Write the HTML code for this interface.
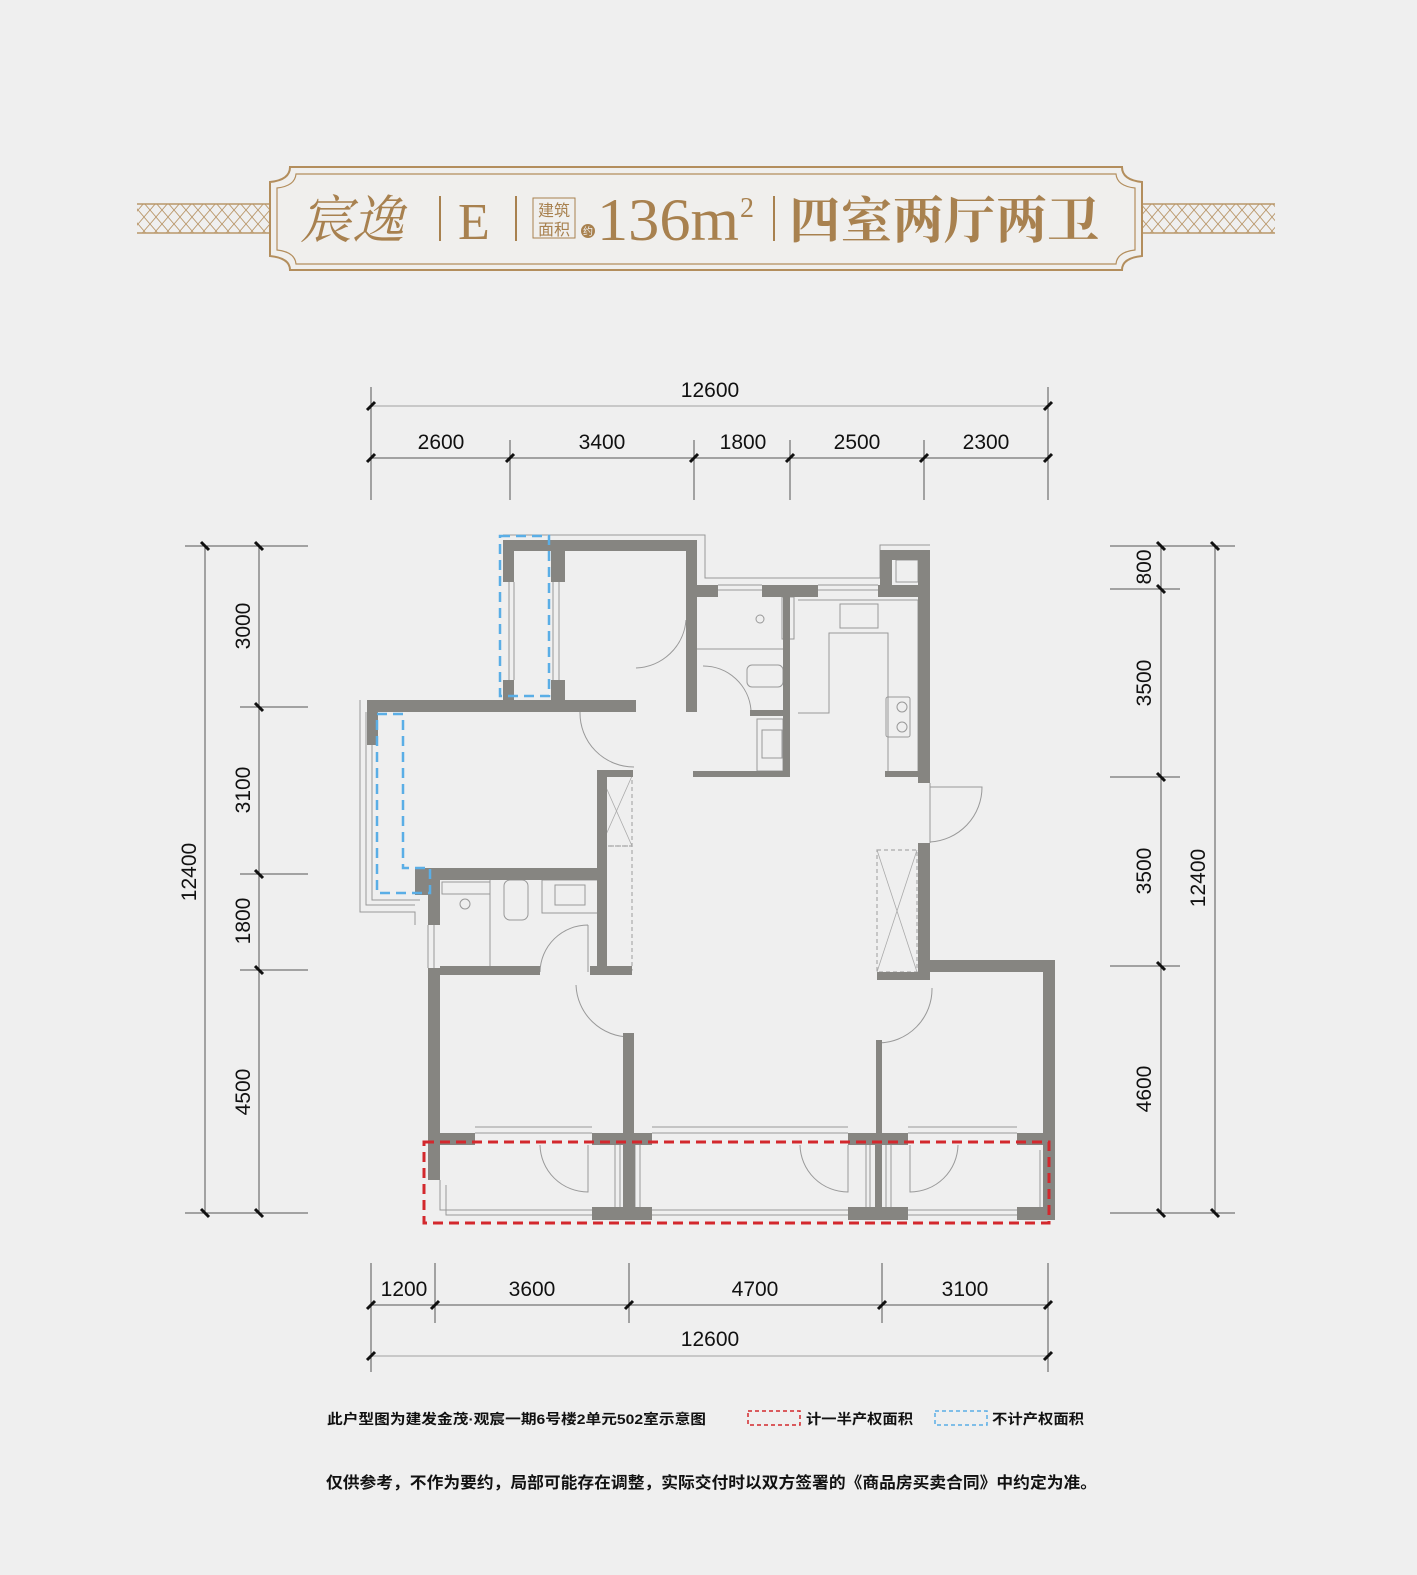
<!DOCTYPE html>
<html><head><meta charset="utf-8"><style>
html,body{margin:0;padding:0;background:#efefef}
svg{display:block}
.t{font-family:"Liberation Sans","Noto Sans CJK SC",sans-serif}
</style></head><body>
<svg width="1417" height="1575" viewBox="0 0 1417 1575" xmlns="http://www.w3.org/2000/svg">
<defs>
<pattern id="dia" x="0" y="0" width="12" height="14" patternUnits="userSpaceOnUse">
<path d="M6 0 L12 7 L6 14 L0 7 Z" fill="none" stroke="#b9976a" stroke-width="0.9"/>
</pattern>
</defs>
<rect width="1417" height="1575" fill="#efefef"/>

<g>
<rect x="137" y="204" width="134" height="29" fill="url(#dia)"/>
<line x1="137" y1="204" x2="271" y2="204" stroke="#b9976a" stroke-width="1.5"/>
<line x1="137" y1="233" x2="271" y2="233" stroke="#b9976a" stroke-width="1.5"/>
<rect x="1142" y="204" width="133" height="29" fill="url(#dia)"/>
<line x1="1142" y1="204" x2="1275" y2="204" stroke="#b9976a" stroke-width="1.5"/>
<line x1="1142" y1="233" x2="1275" y2="233" stroke="#b9976a" stroke-width="1.5"/>
<path d="M290 167 H1122 Q1122 180 1142 182 V256 Q1122 258 1122 270 H290 Q290 258 270 256 V182 Q290 180 290 167 Z" fill="#f0efed" stroke="#b38e5d" stroke-width="2"/>
<path d="M296 174 H1116 Q1117 186 1135 188 V250 Q1117 252 1116 264 H296 Q295 252 277 250 V188 Q295 186 296 174 Z" fill="none" stroke="#b38e5d" stroke-width="1.2"/>
<text x="300" y="238" font-family="'Noto Serif CJK SC',serif" font-size="52" font-style="italic" fill="#a8814f">宸逸</text>
<line x1="440" y1="196" x2="440" y2="241" stroke="#a8814f" stroke-width="2"/>
<text x="458" y="239" font-family="'Liberation Serif',serif" font-size="52" fill="#a8814f">E</text>
<line x1="516" y1="196" x2="516" y2="241" stroke="#a8814f" stroke-width="2"/>
<rect x="533" y="198" width="42" height="40" fill="none" stroke="#a8814f" stroke-width="1"/>
<text x="554" y="216" text-anchor="middle" font-family="'Noto Sans CJK SC',sans-serif" font-size="16" fill="#a8814f">建筑</text>
<text x="554" y="235" text-anchor="middle" font-family="'Noto Sans CJK SC',sans-serif" font-size="16" fill="#a8814f">面积</text>
<circle cx="588" cy="231" r="7" fill="#a8814f"/>
<text x="588" y="235" text-anchor="middle" font-family="'Noto Sans CJK SC',sans-serif" font-size="10" fill="#f0efed">约</text>
<text x="597" y="240" font-family="'Liberation Serif',serif" font-size="60" fill="#a8814f" textLength="142" lengthAdjust="spacingAndGlyphs">136m</text>
<text x="740" y="217" font-family="'Liberation Serif',serif" font-size="28" fill="#a8814f">2</text>
<line x1="774" y1="196" x2="774" y2="241" stroke="#a8814f" stroke-width="2"/>
<text x="789" y="238" font-family="'Noto Serif CJK SC',serif" font-weight="bold" font-size="50" fill="#a8814f" textLength="310" lengthAdjust="spacingAndGlyphs">四室两厅两卫</text>
</g>

<g stroke="#555" stroke-width="1" fill="none">
<line x1="371" y1="406" x2="1048" y2="406" stroke="#bbb" stroke-width="1.5"/>
<line x1="371" y1="458" x2="1048" y2="458"/>
<line x1="371" y1="387" x2="371" y2="500"/>
<line x1="1048" y1="387" x2="1048" y2="500"/>
<line x1="510" y1="440" x2="510" y2="500"/>
<line x1="694" y1="440" x2="694" y2="500"/>
<line x1="790" y1="440" x2="790" y2="500"/>
<line x1="924" y1="440" x2="924" y2="500"/>
<line x1="371" y1="1305" x2="1048" y2="1305"/>
<line x1="371" y1="1356" x2="1048" y2="1356" stroke="#bbb" stroke-width="1.5"/>
<line x1="371" y1="1263" x2="371" y2="1372"/>
<line x1="1048" y1="1263" x2="1048" y2="1372"/>
<line x1="435" y1="1263" x2="435" y2="1323"/>
<line x1="629" y1="1263" x2="629" y2="1323"/>
<line x1="882" y1="1263" x2="882" y2="1323"/>
<line x1="205" y1="546" x2="205" y2="1213"/>
<line x1="259" y1="546" x2="259" y2="1213"/>
<line x1="185" y1="546" x2="308" y2="546"/>
<line x1="185" y1="1213" x2="308" y2="1213"/>
<line x1="240" y1="707" x2="308" y2="707"/>
<line x1="240" y1="874" x2="308" y2="874"/>
<line x1="240" y1="970" x2="308" y2="970"/>
<line x1="1161" y1="546" x2="1161" y2="1213"/>
<line x1="1215" y1="546" x2="1215" y2="1213"/>
<line x1="1110" y1="546" x2="1235" y2="546"/>
<line x1="1110" y1="1213" x2="1235" y2="1213"/>
<line x1="1110" y1="589" x2="1180" y2="589"/>
<line x1="1110" y1="777" x2="1180" y2="777"/>
<line x1="1110" y1="966" x2="1180" y2="966"/>
</g>
<g stroke="#111" stroke-width="3">
<path d="M367 410l8-8M367 462l8-8M1044 410l8-8M1044 462l8-8M506 462l8-8M690 462l8-8M786 462l8-8M920 462l8-8"/>
<path d="M367 1309l8-8M367 1360l8-8M1044 1309l8-8M1044 1360l8-8M431 1309l8-8M625 1309l8-8M878 1309l8-8"/>
<path d="M201 542l8 8M255 542l8 8M201 1209l8 8M255 1209l8 8M255 703l8 8M255 870l8 8M255 966l8 8"/>
<path d="M1157 542l8 8M1211 542l8 8M1157 1209l8 8M1211 1209l8 8M1157 585l8 8M1157 773l8 8M1157 962l8 8"/>
</g>
<g class="t" font-size="21" fill="#111" text-anchor="middle">
<text x="710" y="397">12600</text>
<text x="441" y="449">2600</text>
<text x="602" y="449">3400</text>
<text x="743" y="449">1800</text>
<text x="857" y="449">2500</text>
<text x="986" y="449">2300</text>
<text x="404" y="1296">1200</text>
<text x="532" y="1296">3600</text>
<text x="755" y="1296">4700</text>
<text x="965" y="1296">3100</text>
<text x="710" y="1346">12600</text>
<text transform="translate(250,626) rotate(-90)">3000</text>
<text transform="translate(250,790) rotate(-90)">3100</text>
<text transform="translate(250,921) rotate(-90)">1800</text>
<text transform="translate(250,1092) rotate(-90)">4500</text>
<text transform="translate(196,872) rotate(-90)">12400</text>
<text transform="translate(1151,567) rotate(-90)">800</text>
<text transform="translate(1151,683) rotate(-90)">3500</text>
<text transform="translate(1151,871) rotate(-90)">3500</text>
<text transform="translate(1151,1089) rotate(-90)">4600</text>
<text transform="translate(1205,878) rotate(-90)">12400</text>
</g>

<g stroke="#999" stroke-width="1" fill="none">
<path d="M503 535 H705 V578 H880 V545 H930"/>
<path d="M360 700 V912 H415 V925"/>
<path d="M366 712 V905 H415"/>
<path d="M372 712 V900 H420"/>
<path d="M509 582 V680 M514 582 V680 M553 582 V680 M559 582 V680"/>
<path d="M428 925 V968 M434 925 V968"/>
<path d="M718 585 H762 M718 590 H762 M818 585 H878 M818 590 H878"/>
<path d="M475 1127 H592 M475 1133 H592 M652 1127 H848 M652 1133 H848 M908 1127 H1017 M908 1133 H1017"/>
<path d="M440 1180 V1210 H592 M446 1185 V1215 H592 M652 1210 H848 M652 1215 H848 M908 1210 H1017 M908 1215 H1017"/>
<path d="M615 1140 V1210 M620 1140 V1210 M635 1140 V1210 M640 1140 V1210 M866 1140 V1210 M870 1140 V1210 M886 1140 V1210 M891 1140 V1210 M1040 1150 V1210"/>
<path d="M930 783 V843"/>
<path d="M636 668 A52 52 0 0 0 686 620 M580 712 A54 54 0 0 0 634 767"/>
<path d="M703 666 A48 48 0 0 1 751 710"/>
<path d="M540 972 A48 48 0 0 1 588 925 M588 925 V972"/>
<path d="M576 985 A54 54 0 0 0 630 1037"/>
<path d="M930 787 H982 A55 55 0 0 1 930 842"/>
<path d="M932 988 A54 54 0 0 1 878 1043"/>
<path d="M540 1145 A48 48 0 0 0 588 1192 V1145"/>
<path d="M800 1145 A48 48 0 0 0 848 1192 V1145"/>
<path d="M958 1145 A48 48 0 0 1 910 1192 V1145"/>
<rect x="442" y="882" width="48" height="12"/>
<circle cx="465" cy="904" r="5"/>
<rect x="504" y="880" width="24" height="40" rx="6"/>
<rect x="542" y="880" width="56" height="33"/>
<rect x="555" y="885" width="30" height="20"/>
<line x1="490" y1="880" x2="490" y2="970"/>
<rect x="782" y="597" width="12" height="42"/>
<circle cx="760" cy="619" r="4"/>
<rect x="840" y="604" width="38" height="24"/>
<path d="M798 600 H918 V773 H888 V633 H829 V713 H798"/>
<rect x="886" y="697" width="24" height="40" rx="2"/>
<circle cx="902" cy="707" r="5"/><circle cx="902" cy="727" r="5"/>
<rect x="757" y="719" width="26" height="52"/>
<rect x="762" y="730" width="20" height="28"/>
<rect x="747" y="665" width="36" height="22" rx="5"/>
<line x1="697" y1="649" x2="783" y2="649"/>
<rect x="896" y="560" width="22" height="22"/>
</g>
<g stroke="#aaa" stroke-width="1.2" fill="none" stroke-dasharray="4 3">
<rect x="601" y="776" width="31" height="70"/>
<rect x="601" y="846" width="31" height="124"/>
<rect x="877" y="850" width="40" height="122"/>
</g>
<g stroke="#aaa" stroke-width="0.8" fill="none">
<path d="M601 776 L632 846 M632 776 L601 846 M877 850 L917 972 M917 850 L877 972"/>
</g>

<g fill="#868581">
<rect x="509" y="540" width="188" height="11"/>
<rect x="503" y="540" width="11" height="42"/>
<rect x="551" y="540" width="14" height="42"/>
<rect x="503" y="680" width="11" height="25"/>
<rect x="551" y="680" width="14" height="25"/>
<rect x="686" y="540" width="11" height="172"/>
<rect x="367" y="700" width="269" height="12"/>
<rect x="367" y="700" width="11" height="45"/>
<rect x="415" y="868" width="185" height="12"/>
<rect x="415" y="868" width="25" height="27"/>
<rect x="428" y="880" width="12" height="45"/>
<rect x="428" y="968" width="12" height="212"/>
<rect x="440" y="966" width="100" height="9"/>
<rect x="590" y="966" width="42" height="9"/>
<rect x="597" y="770" width="10" height="205"/>
<rect x="597" y="770" width="36" height="7"/>
<rect x="623" y="1033" width="11" height="177"/>
<rect x="686" y="585" width="32" height="12"/>
<rect x="762" y="585" width="56" height="12"/>
<rect x="878" y="585" width="52" height="12"/>
<rect x="880" y="550" width="50" height="10"/>
<rect x="880" y="550" width="12" height="40"/>
<rect x="918" y="550" width="12" height="233"/>
<rect x="918" y="843" width="12" height="137"/>
<rect x="877" y="972" width="53" height="8"/>
<rect x="783" y="597" width="7" height="180"/>
<rect x="693" y="771" width="97" height="6"/>
<rect x="750" y="710" width="40" height="6"/>
<rect x="885" y="771" width="35" height="6"/>
<rect x="930" y="960" width="125" height="12"/>
<rect x="1043" y="960" width="12" height="260"/>
<rect x="876" y="1040" width="6" height="170"/>
<rect x="440" y="1133" width="35" height="12"/>
<rect x="592" y="1133" width="60" height="12"/>
<rect x="848" y="1133" width="60" height="12"/>
<rect x="1017" y="1133" width="28" height="12"/>
<rect x="592" y="1207" width="60" height="13"/>
<rect x="848" y="1207" width="60" height="13"/>
<rect x="1017" y="1207" width="28" height="13"/>
<rect x="625" y="1145" width="10" height="65"/>
<rect x="875" y="1145" width="7" height="65"/>
</g>

<g fill="none" stroke-width="2.5" stroke-dasharray="10 6">
<rect x="500" y="536" width="49" height="160" stroke="#5aaee6"/>
<path d="M377 714 H403 V868 H430 V893 H377 Z" stroke="#5aaee6"/>
<rect x="424" y="1142" width="625" height="81" stroke="#d3282d" stroke-width="3"/>
</g>

<g class="t" font-weight="bold" fill="#111">
<text x="327" y="1424" font-size="14" textLength="379" lengthAdjust="spacingAndGlyphs">此户型图为建发金茂·观宸一期6号楼2单元502室示意图</text>
<rect x="748" y="1411" width="52" height="14" fill="none" stroke="#d3282d" stroke-width="1.5" stroke-dasharray="4 3"/>
<text x="806" y="1424" font-size="14" textLength="107" lengthAdjust="spacingAndGlyphs">计一半产权面积</text>
<rect x="935" y="1411" width="52" height="14" fill="none" stroke="#5aaee6" stroke-width="1.5" stroke-dasharray="4 3"/>
<text x="992" y="1424" font-size="14" textLength="92" lengthAdjust="spacingAndGlyphs">不计产权面积</text>
<text x="326" y="1488" font-size="16" textLength="771" lengthAdjust="spacingAndGlyphs">仅供参考，不作为要约，局部可能存在调整，实际交付时以双方签署的《商品房买卖合同》中约定为准。</text>
</g>
</svg>
</body></html>
